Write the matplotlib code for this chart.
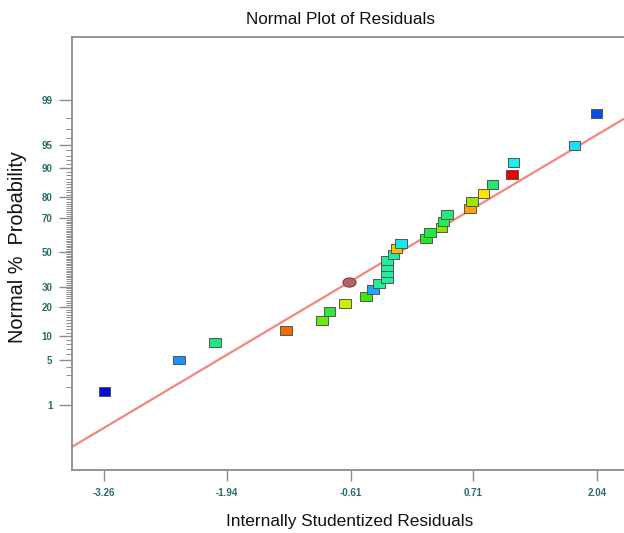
import numpy as np
import matplotlib
matplotlib.use("Agg")
import matplotlib.pyplot as plt
from matplotlib.path import Path
from statistics import NormalDist

plt.rcParams['font.family'] = ['Liberation Sans', 'DejaVu Sans']

# ---------------- data ----------------
residuals = [-3.26, -2.456, -2.068, -1.304, -0.917, -0.836, -0.669, -0.443, -0.368, -0.304,
             -0.220, -0.220, -0.220, -0.220, -0.145, -0.113, -0.066, 0.203, 0.246, 0.372,
             0.389, 0.426, 0.677, 0.695, 0.820, 0.921, 1.129, 1.143, 1.799, 2.04]
probability = [1.69, 4.99, 8.36, 11.63, 14.99, 18.17, 21.57, 24.83, 28.33, 31.5,
               34.6, 38.0, 41.6, 45.1, 48.6, 52.0, 55.3, 58.1, 61.6, 64.8,
               68.3, 71.7, 74.7, 78.3, 81.6, 85.0, 88.2, 91.5, 94.9, 98.3]
point_colors = ['#0a0ad6', '#1e8fff', '#1ee87a', '#f26b00', '#6aea0a', '#2ee83a', '#c8f000',
                '#44e60a', '#1ea8ff', '#1ef0a0', '#1ef0a0', '#1ef0a0', '#1ef0a0', '#1ef0a0',
                '#1ef0a0', '#ffc000', '#16e8f0', '#22e822', '#22e844', '#88e800', '#22ee55',
                '#22ee77', '#ffa500', '#9ae600', '#ffe400', '#22e866', '#ee0000', '#18f0f0',
                '#18e0f8', '#0a50e0']
highlight_residual = [-0.623]
highlight_probability = [32.6]

fit_mean = -0.0835
fit_sd = 1.1856

x_ticks = [-3.26, -1.94, -0.61, 0.71, 2.04]
y_ticks = [1, 5, 10, 20, 30, 50, 70, 80, 90, 95, 99]
y_minor = [v for v in range(1, 100) if v not in y_ticks]

title = "Normal Plot of Residuals"
x_label = "Internally Studentized Residuals"
y_label = "Normal %  Probability"

# ---------------- normal probability scale ----------------
_nd = NormalDist()
_ppf = np.vectorize(_nd.inv_cdf, otypes=[float])
_cdf = np.vectorize(_nd.cdf, otypes=[float])


def forward(p):
    p = np.clip(np.asarray(p, dtype=float) / 100.0, 1e-12, 1 - 1e-12)
    return _ppf(p)


def inverse(z):
    return _cdf(np.asarray(z, dtype=float)) * 100.0


W, H = 624, 533
fig = plt.figure(figsize=(W / 100, H / 100), dpi=100)
left, right, top, bottom = 72, 624, 37, 470
ax = fig.add_axes([left / W, 1 - bottom / H, (right - left) / W, (bottom - top) / H])
ax.set_yscale('function', functions=(forward, inverse))

xlim = (-3.608, 2.334)
ax.set_xlim(*xlim)
ax.set_ylim(float(inverse(-3.326)), float(inverse(3.288)))

# fitted line
xl = np.linspace(xlim[0], xlim[1], 300)
pl = _cdf((xl - fit_mean) / fit_sd) * 100.0
ax.plot(xl, pl, color='#f4857f', lw=1.6, zorder=2, solid_capstyle='butt')

# markers
rect = Path([(-0.5, -0.39), (0.5, -0.39), (0.5, 0.39), (-0.5, 0.39), (-0.5, -0.39)],
            [Path.MOVETO, Path.LINETO, Path.LINETO, Path.LINETO, Path.CLOSEPOLY])
ax.scatter(residuals, probability, s=8.3 ** 2, marker=rect, c=point_colors,
           edgecolors='#555555', linewidths=0.7, zorder=3)
t = np.linspace(0, 2 * np.pi, 60)
ell = Path(np.column_stack([0.5 * np.cos(t), 0.35 * np.sin(t)]), closed=True)
ax.scatter(highlight_residual, highlight_probability, s=9.4 ** 2, marker=ell,
           c='#b86464', edgecolors='#7a4040', linewidths=0.8, zorder=3)

# axes styling
for side in ('left', 'bottom', 'top'):
    ax.spines[side].set_color('#8c8c8c')
    ax.spines[side].set_linewidth(1.3)
ax.spines['right'].set_visible(False)

tick_col = '#2a6b6b'
ax.set_xticks(x_ticks)
ax.set_xticklabels([f"{v:.2f}" for v in x_ticks])
ax.xaxis.set_minor_locator(matplotlib.ticker.NullLocator())
ax.tick_params(axis='x', which='major', direction='out', length=7.7, width=1.0,
               color='#8c8c8c', pad=5, labelsize=7, labelcolor=tick_col)
ax.set_yticks(y_ticks)
ax.set_yticklabels([str(v) for v in y_ticks])
ax.set_yticks(y_minor, minor=True)
ax.yaxis.set_minor_formatter(matplotlib.ticker.NullFormatter())
ax.tick_params(axis='y', which='major', direction='out', length=9.5, width=1.0,
               color='#8c8c8c', pad=4.5, labelsize=7, labelcolor=tick_col)
ax.tick_params(axis='y', which='minor', direction='out', length=4, width=0.7,
               color='#8c8c8c')
for lab in ax.get_xticklabels() + ax.get_yticklabels():
    lab.set_fontweight('bold')

fig.text(341 / W, 1 - 19 / H, title, ha='center', va='center', fontsize=12.3, color='#111111')
fig.text(350 / W, 1 - 521.7 / H, x_label, ha='center', va='center', fontsize=12.4, color='#111111')
fig.text(18 / W, 1 - 247 / H, y_label, ha='center', va='center', rotation=90,
         fontsize=14.3, color='#111111')

fig.savefig('out.png', dpi=100)
